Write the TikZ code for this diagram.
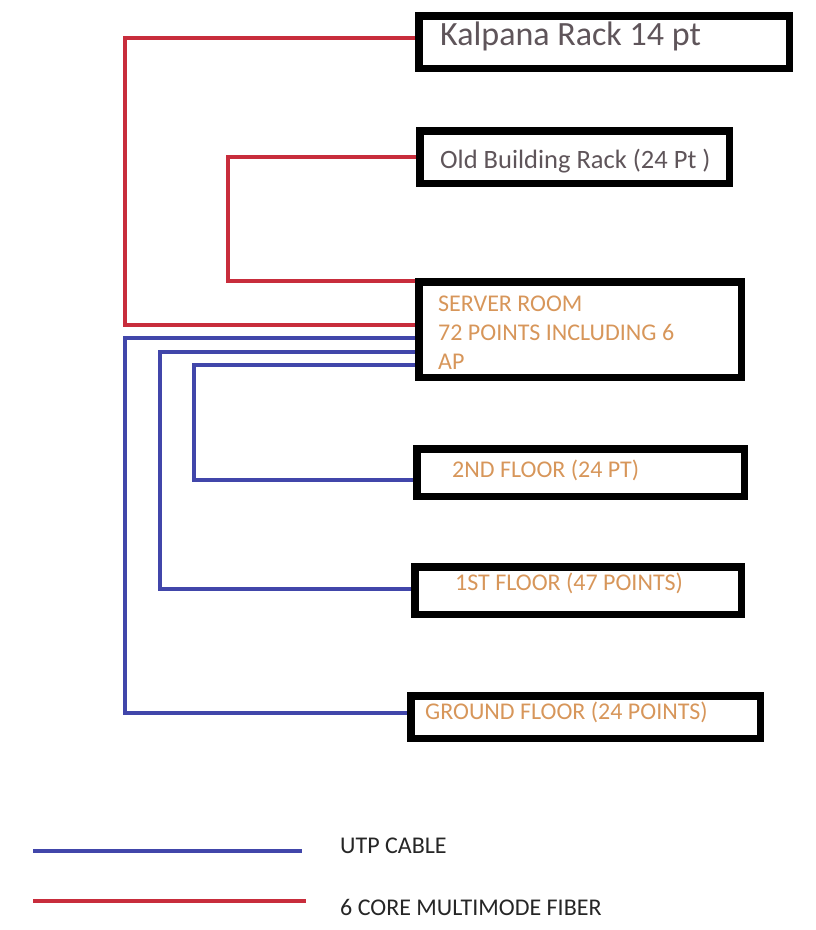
\documentclass[tikz,border=0pt]{standalone}
\usepackage{fontspec}
\setmainfont{Carlito}
\definecolor{rackgray}{RGB}{95,85,90}
\definecolor{ptorange}{RGB}{215,150,90}
\definecolor{fiberred}{RGB}{200,45,60}
\definecolor{utpblue}{RGB}{65,70,170}
\tikzset{
  rackbox/.style={draw=black,line width=7.5,rectangle,inner sep=0pt},
  boxtext/.style={anchor=base west,inner sep=0pt,align=left},
  fiber/.style={draw=fiberred,line width=4},
  utp/.style={draw=utpblue,line width=4}
}
\begin{document}
\begin{tikzpicture}[x=1pt,y=-1pt]
                  \useasboundingbox (0,0) rectangle (816,930);
                  % Kalpana rack box
                  \node [rackbox,minimum width=370.5,minimum height=52.5] (kalpana) at (604,42) {};
                  \node [boxtext,text=rackgray,font=\fontsize{34pt}{34pt}\selectfont] (kalpanatxt) at (440,45) {Kalpana Rack 14 pt};
                  % Old building rack box
                  \node [rackbox,minimum width=309.5,minimum height=52.5] (oldrack) at (574.5,157) {};
                  \node [boxtext,text=rackgray,font=\fontsize{26.5pt}{26.5pt}\selectfont] (oldracktxt) at (440,168) {Old Building Rack (24 Pt )};
                  % Server room box
                  \node [rackbox,minimum width=322.5,minimum height=95.5] (server) at (580,329.5) {};
                  \node [boxtext,anchor=north west,text=ptorange,font=\fontsize{24pt}{29pt}\selectfont] (servertxt) at (438,296) {SERVER ROOM\\72 POINTS INCLUDING 6\\AP};
                  % 2nd floor box
                  \node [rackbox,minimum width=327.5,minimum height=47.5] (second) at (580.5,472.5) {};
                  \node [boxtext,text=ptorange,font=\fontsize{24pt}{24pt}\selectfont] (secondtxt) at (452,477) {2ND FLOOR (24 PT)};
                  % 1st floor box
                  \node [rackbox,minimum width=326.5,minimum height=47.5] (first) at (578,590.5) {};
                  \node [boxtext,text=ptorange,font=\fontsize{24pt}{24pt}\selectfont] (firsttxt) at (455,590) {1ST FLOOR (47 POINTS)};
                  % ground floor box
                  \node [rackbox,minimum width=349.5,minimum height=42.5] (ground) at (585.5,717) {};
                  \node [boxtext,text=ptorange,font=\fontsize{24pt}{24pt}\selectfont] (groundtxt) at (425,719) {GROUND FLOOR (24 POINTS)};
                  % fiber runs
                  \coordinate (fk) at (125,325);
                  \coordinate (fo) at (228,281);
                  \draw [fiber] (kalpana.west |- 0,38) -| (fk) -- (fk -| server.west);
                  \draw [fiber] (oldrack.west) -| (fo) -- (fo -| server.west);
                  % utp runs
                  \coordinate (ug) at (125,338);
                  \coordinate (u1) at (160,352);
                  \coordinate (u2) at (194,365);
                  \draw [utp] (ug -| server.west) -- (ug) |- (ground.west |- 0,713);
                  \draw [utp] (u1 -| server.west) -- (u1) |- (first.west |- 0,589);
                  \draw [utp] (u2 -| server.west) -- (u2) |- (second.west |- 0,480);
                  % legend
                  \coordinate (lua) at (33,851);
                  \coordinate (lub) at (302,851);
                  \coordinate (lfa) at (33,901);
                  \coordinate (lfb) at (306,901);
                  \draw [utp] (lua) -- (lub);
                  \draw [fiber] (lfa) -- (lfb);
                  \node [boxtext,text=black!85,font=\fontsize{24pt}{24pt}\selectfont] (utptxt) at (340,853) {UTP CABLE};
                  \node [boxtext,text=black!85,font=\fontsize{24pt}{24pt}\selectfont] (fibertxt) at (340,915) {6 CORE MULTIMODE FIBER};
\end{tikzpicture}
\end{document}
